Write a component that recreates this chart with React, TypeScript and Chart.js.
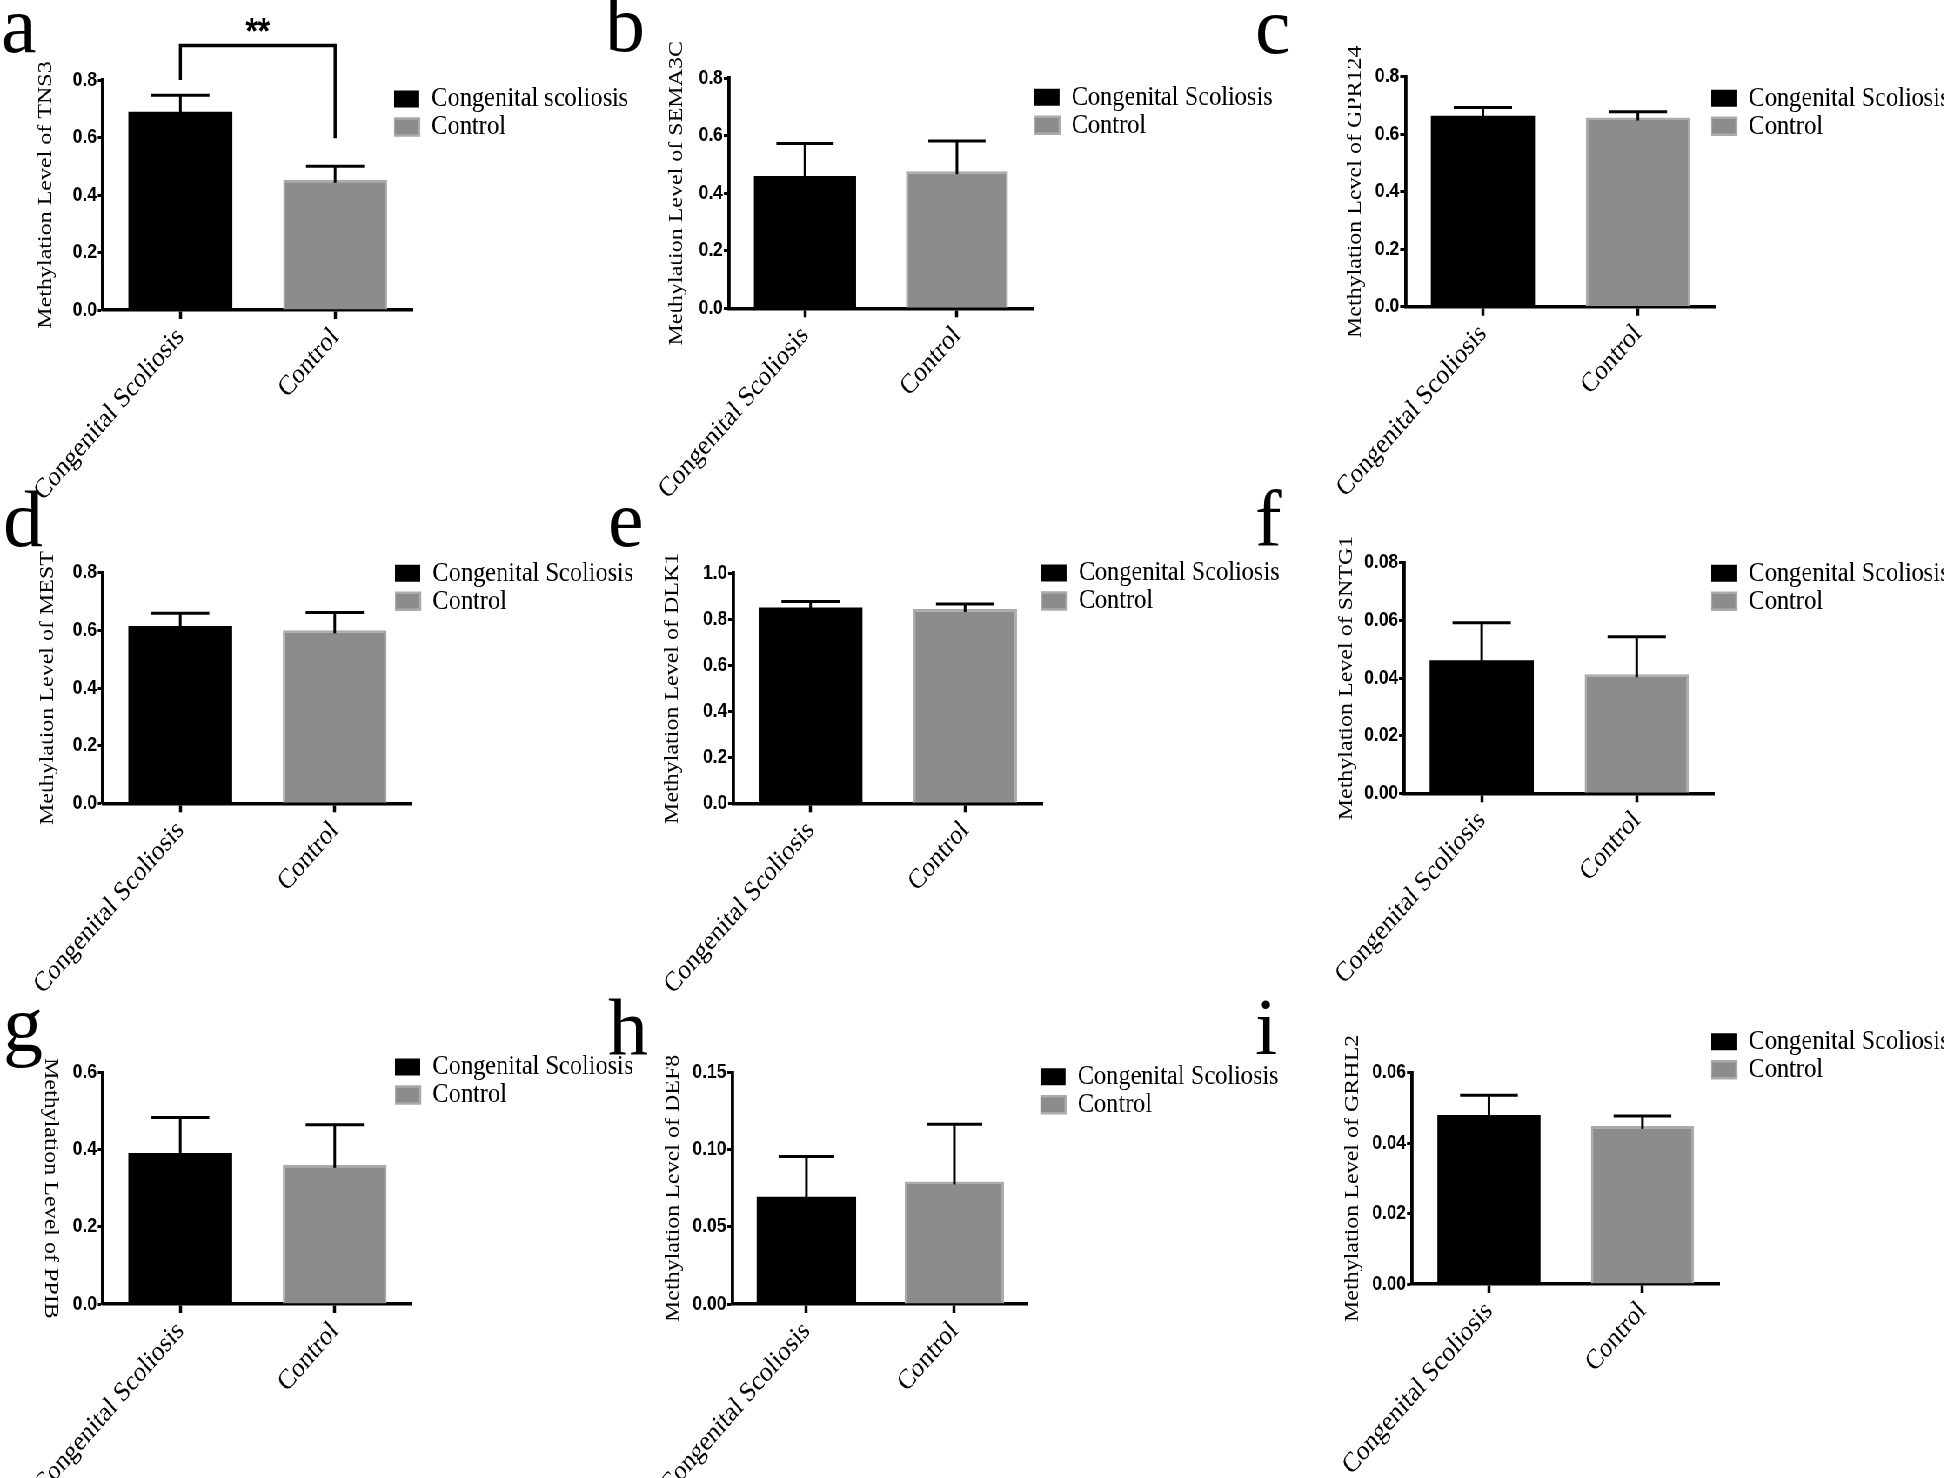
import React, { useEffect, useRef } from "react";
import { Chart, registerables } from "chart.js";

Chart.register(...registerables);

// ---------------- data ----------------
const CATEGORIES = ["Congenital Scoliosis", "Control"];
const PANEL_LETTERS = ["a", "b", "c", "d", "e", "f", "g", "h", "i"];
const GENES = ["TNS3", "SEMA3C", "GPR124", "MEST", "DLK1", "SNTG1", "PPIB", "DEF8", "GRHL2"];
const LEGEND_CS = [
  "Congenital scoliosis",
  "Congenital Scoliosis",
  "Congenital Scoliosis",
  "Congenital Scoliosis",
  "Congenital Scoliosis",
  "Congenital Scoliosis",
  "Congenital Scoliosis",
  "Congenital Scoliosis",
  "Congenital Scoliosis",
];
const LEGEND_CONTROL = "Control";
const CS_MEAN = [0.69, 0.46, 0.664, 0.615, 0.851, 0.0462, 0.392, 0.0696, 0.048];
const CS_SEM = [0.057, 0.113, 0.029, 0.044, 0.026, 0.013, 0.092, 0.026, 0.0056];
const CONTROL_MEAN = [0.453, 0.477, 0.658, 0.6, 0.845, 0.0413, 0.361, 0.0795, 0.0449];
const CONTROL_SEM = [0.047, 0.105, 0.02, 0.062, 0.022, 0.013, 0.104, 0.037, 0.0028];
const Y_MAX = [0.8, 0.8, 0.8, 0.8, 1.0, 0.08, 0.6, 0.15, 0.06];
const Y_STEP = [0.2, 0.2, 0.2, 0.2, 0.2, 0.02, 0.2, 0.05, 0.02];
const Y_DECIMALS = [1, 1, 1, 1, 1, 2, 1, 2, 2];
const SIG_PANEL = 0;
const SIG_LABEL = "**";
// left leg bottom, bracket top, right leg bottom (data units)
const SIG_LEVELS = [0.8, 0.92, 0.597];

// ---------------- layout (page pixels) ----------------
const SX = 0.87; // horizontal squeeze of the panels
const PAGE_W = 1944;
const PAGE_H = 1478;
const COL_LEFT = [0, 640, 1310];
const COL_WIDTH = [640, 670, 634];
const ROW_TOP = [0, 470, 990];
const ROW_HEIGHT = [520, 530, 488];
const AXIS_X = [103, 723.3, 1405.2, 103, 733, 1404, 103, 729, 1412];
const AXIS_END_X = [412.5, 1032.6, 1715.2, 412, 1042, 1714, 412, 1028, 1719];
const AXIS_TOP_Y = [80, 78.3, 76.7, 572.7, 573.3, 562.7, 1072.7, 1072.7, 1072.7];
const AXIS_ZERO_Y = [310, 308.3, 306.7, 803.3, 803.3, 793.3, 1304, 1304, 1284];
const LEGEND_X = [394, 1034, 1711, 395, 1041, 1711, 395, 1040, 1711];
const LEGEND_Y = [99, 97.2, 98.3, 573.3, 573, 573.3, 1067, 1076.7, 1041.7];
const TITLE_X = [46, 670.5, 1355, 48, 672, 1346, 51, 670, 1352];
const LETTER_LEFT = [1, 605, 1255, 3, 608, 1255, 3, 608, 1255];
const LETTER_BASE = [52, 51, 53, 546, 546, 546, 1051, 1054, 1054];
const LETTER_SIZE = 80;

const LEGEND_FONT = 28;

function Panel({ idx }: { idx: number }) {
  const ref = useRef<HTMLCanvasElement | null>(null);
  const col = idx % 3;
  const row = Math.floor(idx / 3);
  const realLeft = COL_LEFT[col];
  const top = ROW_TOP[row];
  const W = Math.round(COL_WIDTH[col] / SX);
  const H = ROW_HEIGHT[row];

  useEffect(() => {
    const v = (x: number) => (x - realLeft) / SX;
    const chartLeft = v(AXIS_X[idx]);
    const chartRight = v(AXIS_END_X[idx]);
    const chartTop = AXIS_TOP_Y[idx] - top;
    const chartBottom = AXIS_ZERO_Y[idx] - top;
    const xAxisH = H - chartBottom;
    const titleText = "Methylation Level of " + GENES[idx];
    const rotatedTitle = idx === 6;
    const titleCenter = v(TITLE_X[idx]);
    const titleFont = 24;
    const titlePad = titleCenter - (titleFont * 1.2) / 2;

    const legendPlacer = {
      id: "legendPlacer",
      beforeDraw(chart: any) {
        const lg = chart.legend;
        if (!lg) return;
        const lx = v(LEGEND_X[idx]);
        const ly = LEGEND_Y[idx] - top - LEGEND_FONT / 2;
        lg.left = lx;
        lg.right = lx + 420;
        lg.top = ly;
        lg.bottom = ly + 200;
      },
    };

    const errorBars = {
      id: "errorBars",
      afterDatasetsDraw(chart: any) {
        const ctx = chart.ctx;
        const ys = chart.scales.y;
        const means = [CS_MEAN[idx], CONTROL_MEAN[idx]];
        const sems = [CS_SEM[idx], CONTROL_SEM[idx]];
        ctx.save();
        ctx.strokeStyle = "#000";
        ctx.lineWidth = 3;
        ctx.lineCap = "butt";
        for (let d = 0; d < 2; d++) {
          const bar = chart.getDatasetMeta(d).data[d];
          if (!bar) continue;
          const x = bar.x;
          const half = bar.width * 0.28;
          const y0 = ys.getPixelForValue(means[d]);
          const y1 = ys.getPixelForValue(means[d] + sems[d]);
          ctx.beginPath();
          ctx.moveTo(x, y0 + 3);
          ctx.lineTo(x, y1);
          ctx.stroke();
          ctx.beginPath();
          ctx.moveTo(x - half, y1);
          ctx.lineTo(x + half, y1);
          ctx.stroke();
        }
        ctx.restore();
      },
    };

    const extras = {
      id: "extras",
      afterDraw(chart: any) {
        const ctx = chart.ctx;
        const xs = chart.scales.x;
        const ys = chart.scales.y;
        ctx.save();
        if (idx === SIG_PANEL) {
          const x0 = xs.getPixelForValue(0);
          const x1 = xs.getPixelForValue(1);
          const yl = ys.getPixelForValue(SIG_LEVELS[0]);
          const yt = ys.getPixelForValue(SIG_LEVELS[1]);
          const yr = ys.getPixelForValue(SIG_LEVELS[2]);
          ctx.strokeStyle = "#000";
          ctx.lineWidth = 3.5;
          ctx.lineJoin = "miter";
          ctx.beginPath();
          ctx.moveTo(x0, yl);
          ctx.lineTo(x0, yt);
          ctx.lineTo(x1, yt);
          ctx.lineTo(x1, yr);
          ctx.stroke();
          ctx.fillStyle = "#000";
          ctx.font = 'bold 36px "Liberation Sans"';
          ctx.textAlign = "center";
          ctx.textBaseline = "alphabetic";
          ctx.fillText(SIG_LABEL, (x0 + x1) / 2, yt - 2);
        }
        if (rotatedTitle) {
          const ca = chart.chartArea;
          ctx.translate(titleCenter, (ca.top + ca.bottom) / 2);
          ctx.rotate(Math.PI / 2);
          ctx.fillStyle = "#000";
          ctx.font = `${titleFont}px "Liberation Serif"`;
          ctx.textAlign = "center";
          ctx.textBaseline = "middle";
          ctx.fillText(titleText, 0, 0);
        }
        ctx.restore();
      },
    };

    const chart = new Chart(ref.current as HTMLCanvasElement, {
      type: "bar",
      data: {
        labels: CATEGORIES,
        datasets: [
          {
            label: LEGEND_CS[idx],
            data: [CS_MEAN[idx], null],
            backgroundColor: "#000000",
            borderColor: "#000000",
            borderWidth: 0,
            grouped: false,
            barPercentage: 0.672,
            categoryPercentage: 1,
          } as any,
          {
            label: LEGEND_CONTROL,
            data: [null, CONTROL_MEAN[idx]],
            backgroundColor: "#8c8c8c",
            borderColor: "#ababab",
            borderWidth: 2.5,
            grouped: false,
            barPercentage: 0.672,
            categoryPercentage: 1,
          } as any,
        ],
      },
      options: {
        responsive: false,
        animation: false,
        devicePixelRatio: 1,
        events: [],
        layout: {
          autoPadding: false,
          padding: {
            left: 0,
            top: chartTop,
            right: W - chartRight - 1,
            bottom: 0,
          },
        } as any,
        plugins: {
          tooltip: { enabled: false },
          legend: {
            display: true,
            position: "right",
            align: "start",
            maxWidth: 1,
            labels: {
              boxWidth: 29,
              boxHeight: 17,
              padding: 0,
              color: "#000",
              font: { family: "Liberation Serif", size: LEGEND_FONT },
            },
          },
        },
        scales: {
          x: {
            type: "category",
            offset: true,
            grid: {
              display: true,
              drawOnChartArea: false,
              drawTicks: true,
              offset: false,
              tickLength: 9,
              tickWidth: 3.5,
              tickColor: "#000",
              color: "#000",
            },
            border: { display: true, color: "#000", width: 3.5 },
            ticks: {
              color: "#000",
              font: { family: "Liberation Serif", size: 28 },
              minRotation: 45,
              maxRotation: 45,
              autoSkip: false,
              padding: 2,
            },
            afterFit: (s: any) => {
              s.height = xAxisH;
            },
          },
          y: {
            type: "linear",
            min: 0,
            max: Y_MAX[idx],
            grid: {
              display: true,
              drawOnChartArea: false,
              drawTicks: true,
              tickLength: 6,
              tickWidth: 3,
              tickColor: "#000",
              color: "#000",
            },
            border: { display: true, color: "#000", width: 3.8 },
            ticks: {
              stepSize: Y_STEP[idx],
              padding: 1,
              color: "#000",
              font: { family: "Liberation Sans", weight: "bold", size: 20 },
              callback: (val: any) => Number(val).toFixed(Y_DECIMALS[idx]),
            },
            title: {
              display: !rotatedTitle,
              text: titleText,
              color: "#000",
              font: { family: "Liberation Serif", size: titleFont },
              padding: { top: titlePad, bottom: 0 },
            },
            afterFit: (s: any) => {
              s.width = chartLeft;
            },
          },
        } as any,
      },
      plugins: [legendPlacer, errorBars, extras],
    });
    return () => chart.destroy();
  }, []);

  return (
    <canvas
      ref={ref}
      width={W}
      height={H}
      style={{ position: "absolute", left: realLeft / SX, top, width: W, height: H, display: "block" }}
    />
  );
}

export default function App() {
  return (
    <div
      style={{
        position: "absolute",
        left: 0,
        top: 0,
        width: PAGE_W,
        height: PAGE_H,
        overflow: "hidden",
        background: "#fff",
      }}
    >
      <div
        style={{
          position: "absolute",
          left: 0,
          top: 0,
          width: PAGE_W / SX,
          height: PAGE_H,
          transform: `scaleX(${SX})`,
          transformOrigin: "0 0",
        }}
      >
        {PANEL_LETTERS.map((_, i) => (
          <Panel key={i} idx={i} />
        ))}
      </div>
      {PANEL_LETTERS.map((l, i) => (
        <div
          key={"l" + i}
          style={{
            position: "absolute",
            left: LETTER_LEFT[i],
            top: LETTER_BASE[i] - Math.round(LETTER_SIZE * 0.8375),
            fontFamily: '"Liberation Serif"',
            fontSize: LETTER_SIZE,
            lineHeight: 1,
            color: "#000",
          }}
        >
          {l}
        </div>
      ))}
    </div>
  );
}
